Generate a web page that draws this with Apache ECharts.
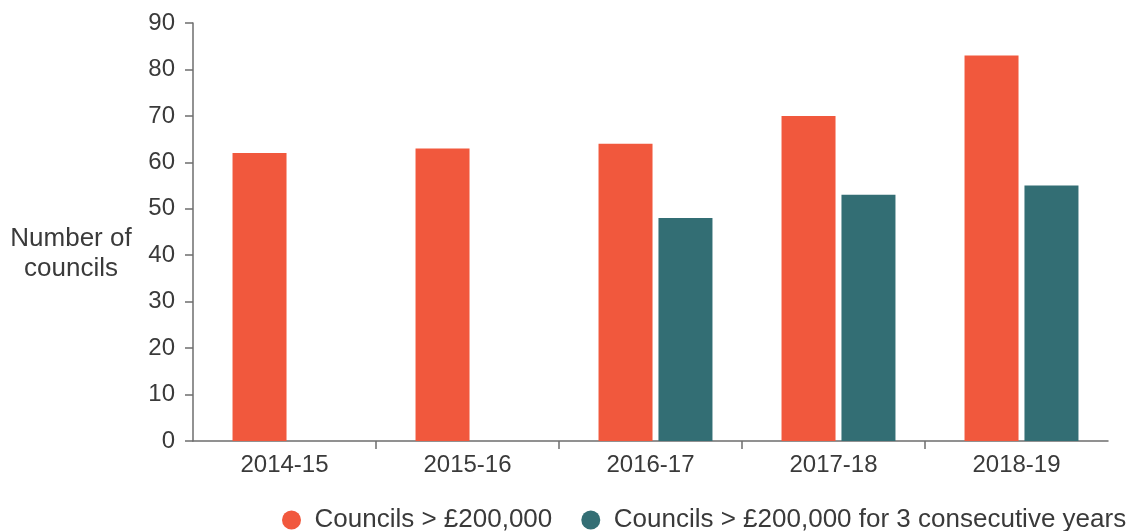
<!DOCTYPE html>
<html>
<head>
<meta charset="utf-8">
<script src="https://cdn.jsdelivr.net/npm/echarts@6/dist/echarts.min.js"></script>
<style>
html,body{margin:0;padding:0;background:#fff;}
#chart{width:1132px;height:531px;}
</style>
</head>
<body>
<div id="chart"></div>
<script>
const categories = ['2014-15', '2015-16', '2016-17', '2017-18', '2018-19'];
const seriesNames = ['Councils > £200,000', 'Councils > £200,000 for 3 consecutive years'];
const councilsOver200k = [62, 63, 64, 70, 83];
const councilsOver200k3Years = [null, null, 48, 53, 55];
const spacerValues = [null, null, null, null, null];
const yTicks = { min: 0, max: 90, interval: 10 };
const xTickPositions = [1, 2, 3, 4];
const yAxisTitle = 'Number of\ncouncils';

const textColor = '#3a3a3a';
const axisColor = '#6e6e6e';
const fontFamily = '"Liberation Sans", Arial, sans-serif';

const chart = echarts.init(document.getElementById('chart'), null, { renderer: 'canvas' });
chart.setOption({
  animation: false,
  backgroundColor: '#ffffff',
  textStyle: { fontFamily: fontFamily, color: textColor },
  grid: { left: 193, right: 24, top: 23, bottom: 90, containLabel: false },
  legend: {
    left: 277, top: 502,
    icon: 'circle',
    itemWidth: 28, itemHeight: 19,
    itemGap: 29,
    textStyle: { fontSize: 26, color: textColor, fontFamily: fontFamily, padding: [0, 0, 0, 4] },
    data: seriesNames
  },
  graphic: [{
    type: 'text',
    x: 71, y: 254,
    style: {
      text: yAxisTitle,
      fontSize: 26,
      fontFamily: fontFamily,
      fill: textColor,
      lineHeight: 30,
      align: 'center',
      verticalAlign: 'middle'
    }
  }],
  xAxis: [{
    type: 'category',
    data: categories,
    axisLine: { show: true, lineStyle: { color: axisColor, width: 1.5 } },
    axisTick: { show: false },
    axisLabel: { fontSize: 24, color: textColor, margin: 12, fontFamily: fontFamily },
    splitLine: { show: false }
  }, {
    type: 'value',
    position: 'bottom',
    min: 0, max: categories.length,
    interval: 1,
    axisLine: { show: false },
    axisLabel: { show: false },
    splitLine: { show: false },
    axisTick: {
      show: true, length: 8,
      customValues: xTickPositions,
      lineStyle: { color: axisColor, width: 1.5 }
    }
  }],
  yAxis: {
    type: 'value',
    min: yTicks.min, max: yTicks.max, interval: yTicks.interval,
    axisLine: { show: true, lineStyle: { color: axisColor, width: 1.5 } },
    axisTick: { show: true, length: 8, lineStyle: { color: axisColor, width: 1.5 } },
    axisLabel: { fontSize: 24, color: textColor, margin: 18, fontFamily: fontFamily },
    splitLine: { show: false }
  },
  series: [{
    name: 'spacer',
    type: 'bar',
    xAxisIndex: 0,
    data: spacerValues,
    barWidth: 9,
    barGap: '11%',
    silent: true,
    itemStyle: { color: 'rgba(0,0,0,0)' }
  }, {
    name: seriesNames[0],
    type: 'bar',
    xAxisIndex: 0,
    data: councilsOver200k,
    barWidth: 54,
    barGap: '11%',
    itemStyle: { color: '#F1583D' }
  }, {
    name: seriesNames[1],
    type: 'bar',
    xAxisIndex: 0,
    data: councilsOver200k3Years,
    barWidth: 54,
    barGap: '11%',
    itemStyle: { color: '#336E74' }
  }]
});
</script>
</body>
</html>
